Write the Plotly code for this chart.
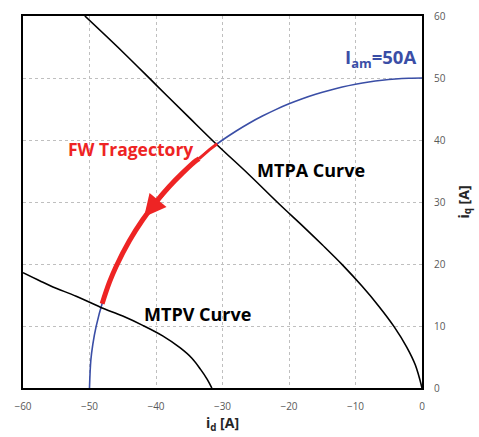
import plotly.graph_objects as go

# Current-limit circle (Iam = 50 A)
circle_id = [-50, -49.8, -49.5, -49, -48, -47, -46, -45, -44, -42, -40, -38, -36, -34, -32,
             -30, -28, -26, -24, -22, -20, -18, -16, -14, -12, -10, -8, -6, -4, -2, 0]
circle_iq = [0, 4.47, 7.05, 9.95, 14.0, 17.06, 19.6, 21.8, 23.75, 27.13, 30.0, 32.5, 34.7, 36.66, 38.42,
             40.0, 41.42, 42.71, 43.86, 44.9, 45.83, 46.65, 47.37, 48.0, 48.54, 48.99, 49.36, 49.64, 49.84, 49.96, 50]

# MTPA curve
mtpa_id = [-50.7, -45, -40, -35, -30.8, -26, -21.4, -18, -15.0, -12.0, -9.0, -6.5, -4.2, -2.3, -1.0, 0]
mtpa_iq = [60, 54.2, 48.9, 43.6, 39.2, 34.4, 29.6, 26.2, 23.1, 19.9, 16.4, 13.2, 9.9, 6.6, 3.7, 0]

# MTPV curve
mtpv_id = [-60, -57.5, -55.5, -52, -48.3, -45, -42, -39, -36.4, -34.6, -33.3, -32.3, -31.6]
mtpv_iq = [18.6, 17.3, 16.3, 14.8, 13.0, 11.6, 10.1, 8.4, 6.5, 4.8, 3.0, 1.4, 0]

# Field-weakening trajectory
fw1_id = [-30.8, -32, -33.5]
fw1_iq = [39.4, 38.42, 37.0]
fw2_id = [-33.5, -34, -36, -38, -40, -42, -44, -46, -47, -48.1]
fw2_iq = [37.0, 36.66, 34.7, 32.5, 30.0, 27.13, 23.75, 19.6, 17.06, 13.6]

arrow_tail = (-38.8, 31.5)
arrow_tip = (-41.8, 27.6)

x_ticks = [-60, -50, -40, -30, -20, -10, 0]
y_ticks = [0, 10, 20, 30, 40, 50, 60]

BLUE = "#3A4EA6"
RED = "#EE2424"

fig = go.Figure()
fig.add_trace(go.Scatter(x=circle_id, y=circle_iq, mode="lines", line_shape="spline",
                         line=dict(color=BLUE, width=1.6), hoverinfo="skip"))
fig.add_trace(go.Scatter(x=mtpa_id, y=mtpa_iq, mode="lines", line_shape="spline",
                         line=dict(color="black", width=1.6), hoverinfo="skip"))
fig.add_trace(go.Scatter(x=mtpv_id, y=mtpv_iq, mode="lines", line_shape="spline",
                         line=dict(color="black", width=1.6), hoverinfo="skip"))
fig.add_trace(go.Scatter(x=fw1_id, y=fw1_iq, mode="lines",
                         line=dict(color=RED, width=3), hoverinfo="skip"))
fig.add_trace(go.Scatter(x=fw2_id, y=fw2_iq, mode="lines", line_shape="spline",
                         line=dict(color=RED, width=5), hoverinfo="skip"))

fig.add_annotation(x=arrow_tip[0], y=arrow_tip[1], ax=arrow_tail[0], ay=arrow_tail[1],
                   xref="x", yref="y", axref="x", ayref="y", text="",
                   showarrow=True, arrowhead=2, arrowsize=1.1, arrowwidth=4,
                   arrowcolor=RED, standoff=0)

font_family = "Open Sans, Noto Sans, sans-serif"
fig.add_annotation(x=-43.9, y=38.6, xref="x", yref="y", text="<b>FW Tragectory</b>",
                   showarrow=False, font=dict(family=font_family, size=17.5, color=RED))
fig.add_annotation(x=-16.7, y=35.2, xref="x", yref="y", text="<b>MTPA Curve</b>",
                   showarrow=False, font=dict(family=font_family, size=18, color="black"))
fig.add_annotation(x=-33.8, y=12.0, xref="x", yref="y", text="<b>MTPV Curve</b>",
                   showarrow=False, font=dict(family=font_family, size=18, color="black"))
fig.add_annotation(x=-6.3, y=53.2, xref="x", yref="y", text="<b>I<sub>am</sub>=50A</b>",
                   showarrow=False, font=dict(family=font_family, size=18.5, color=BLUE))

fig.update_layout(
    width=479, height=437,
    margin=dict(l=23, r=57, t=8, b=49),
    paper_bgcolor="white", plot_bgcolor="white",
    showlegend=False,
    font=dict(family=font_family, color="#595959", size=10),
)
fig.update_xaxes(range=[-60, 0], tickvals=x_ticks, showgrid=True,
                 gridcolor="#BFBFBF", griddash="dot", gridwidth=1,
                 showline=True, linecolor="black", linewidth=2, mirror=True,
                 zeroline=False, ticks="", ticklabelstandoff=8,
                 title=dict(text="<b>i<sub>d</sub> [A]</b>", standoff=6,
                            font=dict(family=font_family, size=14, color="#262626")))
fig.update_yaxes(range=[0, 60], tickvals=y_ticks, side="right", showgrid=True,
                 gridcolor="#BFBFBF", griddash="dot", gridwidth=1,
                 showline=True, linecolor="black", linewidth=2, mirror=True,
                 zeroline=False, ticks="", ticklabelstandoff=8,
                 title=dict(text="<b>i<sub>q</sub> [A]</b>", standoff=14,
                            font=dict(family=font_family, size=14, color="#262626")))

fig.write_html("out.html")
